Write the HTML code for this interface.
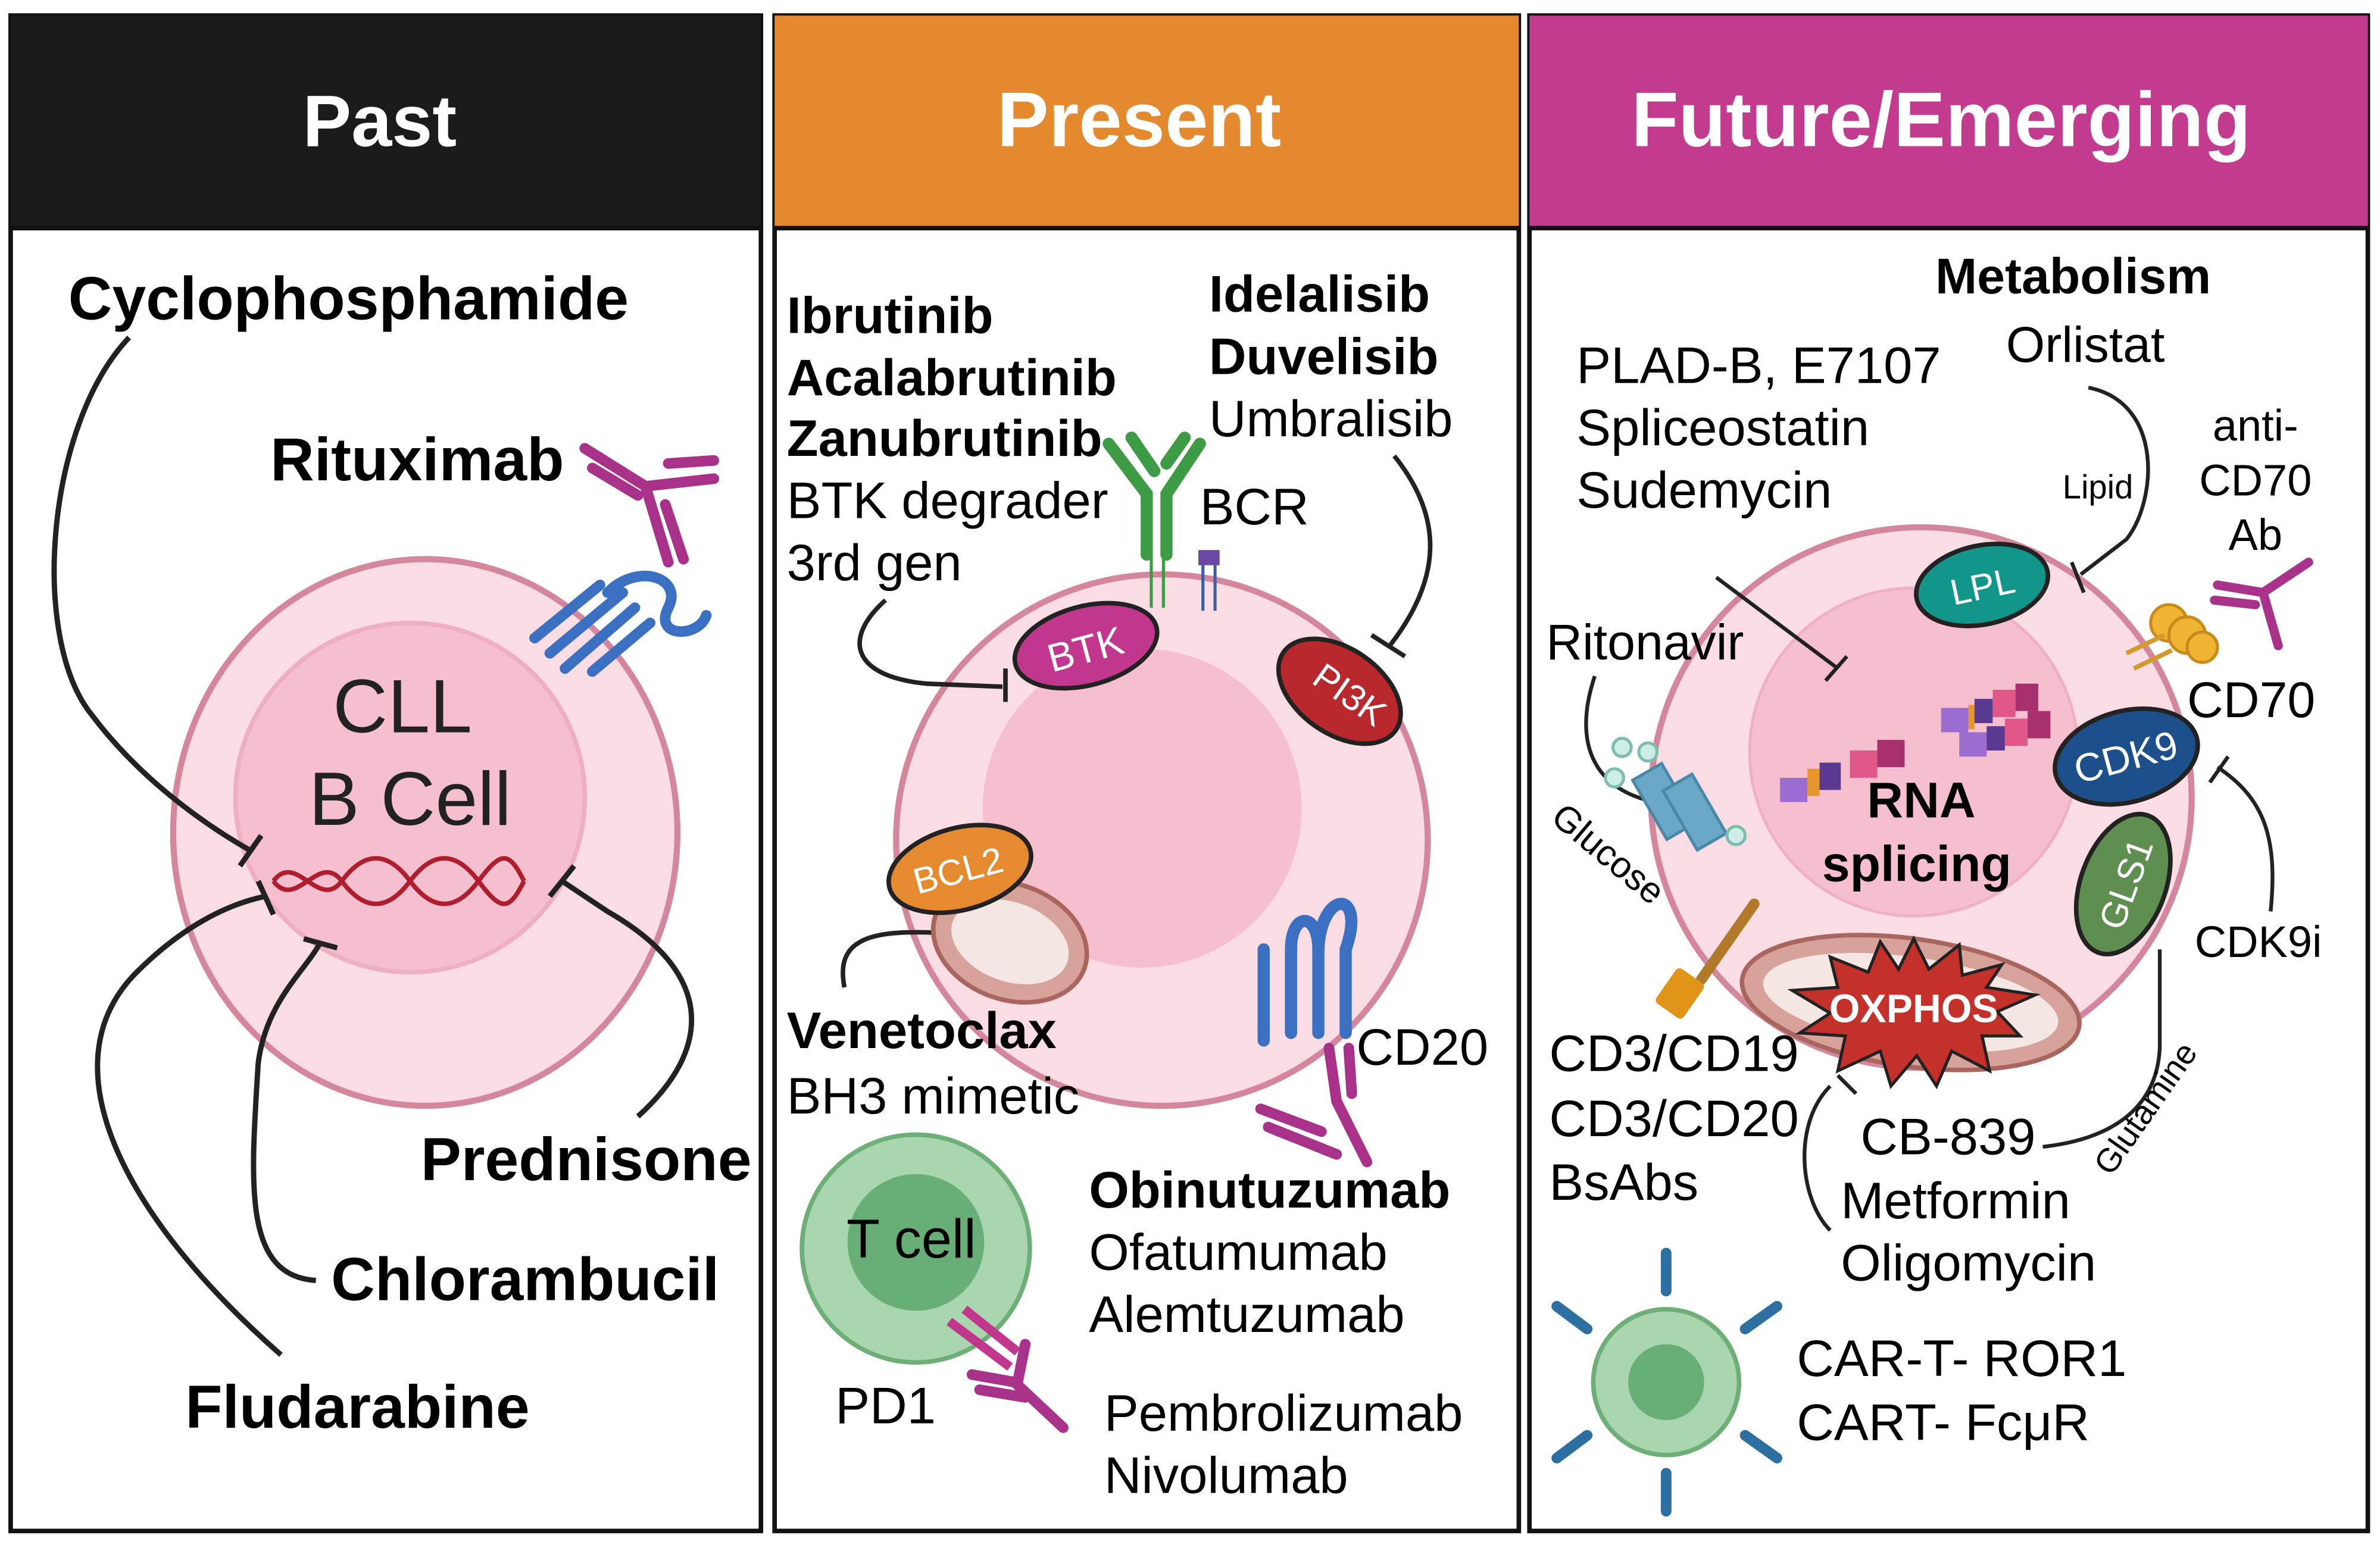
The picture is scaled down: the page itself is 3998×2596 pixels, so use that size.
<!DOCTYPE html>
<html><head><meta charset="utf-8"><style>
html,body{margin:0;padding:0;background:#fff}
svg{display:block}
text{font-family:"Liberation Sans",sans-serif}
.b{font-weight:bold}
</style></head><body>
<svg width="3998" height="2596" viewBox="0 0 1567 1017" xmlns="http://www.w3.org/2000/svg">
<rect width="1567" height="1017" fill="#fff"/>
<!-- panels -->
<rect x="7" y="10" width="494" height="998" fill="#fff" stroke="#111" stroke-width="3"/>
<rect x="7" y="10" width="494" height="140" fill="#1b1b1b"/>
<line x1="7" y1="150" x2="501" y2="150" stroke="#111" stroke-width="3"/>
<text x="250" y="96" text-anchor="middle" class="b" font-size="48" fill="#fff">Past</text>

<rect x="510" y="10" width="490" height="998" fill="#fff" stroke="#111" stroke-width="3"/>
<rect x="510" y="10" width="490" height="140" fill="#E5892E"/>
<line x1="510" y1="150" x2="1000" y2="150" stroke="#111" stroke-width="3"/>
<text x="750" y="96" text-anchor="middle" class="b" font-size="51" fill="#fff">Present</text>

<rect x="1007" y="10" width="552" height="998" fill="#fff" stroke="#111" stroke-width="3"/>
<rect x="1007" y="10" width="552" height="140" fill="#C23B8E"/>
<line x1="1007" y1="150" x2="1559" y2="150" stroke="#111" stroke-width="3"/>
<text x="1278" y="96" text-anchor="middle" class="b" font-size="51" fill="#fff">Future/Emerging</text>

<!-- PAST -->
<ellipse cx="280" cy="548" rx="166" ry="180" fill="#FADCE4" stroke="#D4879C" stroke-width="4"/>
<circle cx="270" cy="525" r="115" fill="#F6BFD0" stroke="#EFAFC2" stroke-width="3"/>
<text x="265" y="482" text-anchor="middle" font-size="50" fill="#222">CLL</text>
<text x="270" y="543" text-anchor="middle" font-size="50" fill="#222">B Cell</text>
<g stroke="#B01E2E" stroke-width="3" fill="none">
<path d="M180,580 C195,560 210,600 225,580 S255,560 270,580 S300,600 315,580 S335,560 345,580"/>
<path d="M180,580 C195,600 210,560 225,580 S255,600 270,580 S300,560 315,580 S335,600 345,580"/>
</g>
<g stroke="#222" stroke-width="3.5" fill="none">
<path d="M85,222 C30,280 20,420 60,470 C90,510 130,540 165,560"/><line x1="158" y1="570" x2="172" y2="550"/>
<path d="M185,892 C80,800 30,700 90,640 C120,610 150,595 175,590"/><line x1="170" y1="580" x2="180" y2="602"/>
<path d="M208,843 C160,840 165,780 170,700 C175,660 200,640 210,622"/><line x1="200" y1="618" x2="222" y2="624"/>
<path d="M420,735 C470,690 470,640 400,600 L370,580"/><line x1="362" y1="590" x2="378" y2="570"/>
</g>
<text x="45" y="210" class="b" font-size="40">Cyclophosphamide</text>
<text x="178" y="316" class="b" font-size="40">Rituximab</text>
<text x="277" y="777" class="b" font-size="40">Prednisone</text>
<text x="218" y="856" class="b" font-size="40">Chlorambucil</text>
<text x="122" y="940" class="b" font-size="40">Fludarabine</text>
<g stroke="#A8328A" stroke-width="7" fill="none" stroke-linecap="round">
<path d="M385,295 L425,320 L470,315"/><path d="M390,308 L420,326"/><path d="M425,320 L440,370"/><path d="M438,332 L450,368"/><path d="M440,305 L470,303"/>
</g>
<g stroke="#3A6FC2" stroke-width="7" fill="none" stroke-linecap="round">
<path d="M352,420 L395,385"/><path d="M362,430 L410,390"/><path d="M372,440 L418,400"/><path d="M390,442 L428,410"/><path d="M400,390 C420,370 450,380 440,400 C430,420 460,420 465,405"/>
</g>

<!-- PRESENT -->
<circle cx="765" cy="553" r="175" fill="#FADCE4" stroke="#D4879C" stroke-width="4"/>
<circle cx="752" cy="532" r="105" fill="#F6BFD0"/>
<text x="518" y="219" class="b" font-size="34">Ibrutinib</text>
<text x="518" y="260" class="b" font-size="34">Acalabrutinib</text>
<text x="518" y="300" class="b" font-size="34">Zanubrutinib</text>
<text x="518" y="341" font-size="34">BTK degrader</text>
<text x="518" y="382" font-size="34">3rd gen</text>
<text x="796" y="205" class="b" font-size="34">Idelalisib</text>
<text x="796" y="246" class="b" font-size="34">Duvelisib</text>
<text x="796" y="287" font-size="34">Umbralisib</text>
<text x="790" y="345" font-size="34">BCR</text>
<g stroke="#3E9B45" stroke-width="8" fill="none" stroke-linecap="round">
<path d="M730,292 L755,325 L755,365"/><path d="M790,292 L768,325 L768,365"/><path d="M745,288 L760,310"/><path d="M780,288 L768,305"/>
</g>
<g stroke="#3E9B45" stroke-width="2"><line x1="758" y1="365" x2="758" y2="400"/><line x1="766" y1="365" x2="766" y2="400"/></g>
<g stroke="#3A5FA8" stroke-width="2"><line x1="792" y1="365" x2="792" y2="402"/><line x1="800" y1="365" x2="800" y2="402"/></g>
<rect x="789" y="362" width="14" height="10" fill="#6A4AA0"/>
<ellipse cx="715" cy="425" rx="48" ry="26" transform="rotate(-15 715 425)" fill="#C2378E" stroke="#222" stroke-width="3"/>
<text x="717" y="436" text-anchor="middle" font-size="26" fill="#fff" transform="rotate(-15 717 436)">BTK</text>
<ellipse cx="882" cy="455" rx="45" ry="28" transform="rotate(35 882 455)" fill="#B8282C" stroke="#222" stroke-width="3"/>
<text x="884" y="464" text-anchor="middle" font-size="24" fill="#fff" transform="rotate(35 884 464)">PI3K</text>
<g stroke="#222" stroke-width="3" fill="none">
<path d="M583,395 C555,420 560,445 610,450 L660,452"/><line x1="662" y1="440" x2="662" y2="462"/>
<path d="M918,300 C950,340 950,380 915,425"/><line x1="903" y1="418" x2="925" y2="432"/>
<path d="M556,650 C550,620 570,612 615,614"/><line x1="617" y1="603" x2="617" y2="625"/>
</g>
<ellipse cx="665" cy="620" rx="52" ry="38" transform="rotate(20 665 620)" fill="#D7A29A" stroke="#A8665E" stroke-width="3"/>
<ellipse cx="665" cy="620" rx="40" ry="26" transform="rotate(20 665 620)" fill="#F4E6E2"/>
<ellipse cx="632" cy="572" rx="48" ry="27" transform="rotate(-15 632 572)" fill="#E58A2E" stroke="#222" stroke-width="3"/>
<text x="633" y="581" text-anchor="middle" font-size="24" fill="#fff" transform="rotate(-15 633 581)">BCL2</text>
<text x="518" y="690" class="b" font-size="34">Venetoclax</text>
<text x="518" y="733" font-size="34">BH3 mimetic</text>
<g stroke="#3A6FC2" stroke-width="8" fill="none" stroke-linecap="round">
<path d="M832,625 L832,685"/><path d="M850,625 L850,680"/><path d="M868,625 L868,680"/><path d="M886,625 L886,680"/>
<path d="M850,625 C850,600 868,600 868,625"/><path d="M868,625 C870,585 900,585 886,625"/>
</g>
<g stroke="#A8328A" stroke-width="7" fill="none" stroke-linecap="round">
<path d="M875,690 L880,725 L900,765"/><path d="M830,730 L870,745"/><path d="M835,742 L880,760"/><path d="M888,690 L890,720"/>
</g>
<text x="893" y="701" font-size="34">CD20</text>
<text x="717" y="795" class="b" font-size="34">Obinutuzumab</text>
<text x="717" y="836" font-size="34">Ofatumumab</text>
<text x="717" y="877" font-size="34">Alemtuzumab</text>
<circle cx="603" cy="822" r="75" fill="#A9D6AE" stroke="#6DAF77" stroke-width="3"/>
<circle cx="603" cy="818" r="45" fill="#67AE77"/>
<text x="600" y="828" text-anchor="middle" font-size="36">T cell</text>
<g stroke="#C2378E" stroke-width="6" fill="none"><path d="M625,870 L665,900"/><path d="M635,862 L670,890"/></g>
<g stroke="#A8328A" stroke-width="7" fill="none" stroke-linecap="round"><path d="M640,905 L668,910 L700,940"/><path d="M675,885 L670,910"/><path d="M645,915 L675,920"/></g>
<text x="550" y="937" font-size="34">PD1</text>
<text x="727" y="942" font-size="34">Pembrolizumab</text>
<text x="727" y="983" font-size="34">Nivolumab</text>

<!-- FUTURE -->
<circle cx="1265" cy="525" r="178" fill="#FADCE4" stroke="#D4879C" stroke-width="4"/>
<circle cx="1260" cy="495" r="108" fill="#F6BFD0" stroke="#F0B0C4" stroke-width="2"/>
<text x="1365" y="193" text-anchor="middle" class="b" font-size="33">Metabolism</text>
<text x="1373" y="238" text-anchor="middle" font-size="33">Orlistat</text>
<text x="1038" y="252" font-size="34">PLAD-B, E7107</text>
<text x="1038" y="293" font-size="34">Spliceostatin</text>
<text x="1038" y="334" font-size="34">Sudemycin</text>
<text x="1485" y="290" text-anchor="middle" font-size="29">anti-</text>
<text x="1485" y="326" text-anchor="middle" font-size="29">CD70</text>
<text x="1485" y="362" text-anchor="middle" font-size="29">Ab</text>
<text x="1358" y="328" font-size="22">Lipid</text>
<g stroke="#222" stroke-width="2.5" fill="none">
<path d="M1375,255 C1425,265 1420,330 1400,355 L1370,378"/><line x1="1364" y1="370" x2="1372" y2="390"/>
<path d="M1130,380 L1210,440"/><line x1="1202" y1="448" x2="1216" y2="432"/>
<path d="M1050,445 C1035,490 1050,520 1090,528"/>
<path d="M1495,600 C1500,550 1490,525 1460,505"/><line x1="1455" y1="515" x2="1467" y2="498"/>
<path d="M1422,625 L1422,690 C1420,730 1390,750 1345,755"/>
<path d="M1205,715 C1180,740 1185,790 1205,810"/><line x1="1210" y1="708" x2="1222" y2="720"/>
</g>
<text x="1018" y="434" font-size="33">Ritonavir</text>
<text x="1020" y="540" font-size="24" transform="rotate(40 1020 540)">Glucose</text>
<g fill="#6BA8C8" stroke="#4A88A8" stroke-width="2"><rect x="1085" y="505" width="22" height="45" transform="rotate(-30 1096 528)"/><rect x="1105" y="512" width="22" height="45" transform="rotate(-30 1116 535)"/></g>
<g fill="#CDEEE6" stroke="#7DBCAE" stroke-width="2"><circle cx="1068" cy="492" r="6"/><circle cx="1085" cy="495" r="6"/><circle cx="1063" cy="512" r="6"/><circle cx="1143" cy="550" r="6"/></g>
<g>
<rect x="1172" y="512" width="18" height="16" fill="#9B6DD0"/><rect x="1190" y="506" width="8" height="18" fill="#E5962E"/><rect x="1198" y="502" width="14" height="18" fill="#5A3A90"/><rect x="1218" y="494" width="18" height="18" fill="#E0578A"/><rect x="1236" y="487" width="18" height="18" fill="#A8306E"/>
<rect x="1278" y="466" width="18" height="16" fill="#9B6DD0"/><rect x="1296" y="464" width="4" height="16" fill="#E5962E"/><rect x="1300" y="460" width="12" height="16" fill="#5A3A90"/><rect x="1312" y="454" width="15" height="18" fill="#E0578A"/><rect x="1327" y="450" width="15" height="18" fill="#A8306E"/>
<rect x="1290" y="482" width="18" height="16" fill="#9B6DD0"/><rect x="1308" y="478" width="12" height="16" fill="#5A3A90"/><rect x="1320" y="473" width="15" height="18" fill="#E0578A"/><rect x="1335" y="468" width="15" height="18" fill="#A8306E"/>
</g>
<text x="1265" y="538" text-anchor="middle" class="b" font-size="33">RNA</text>
<text x="1262" y="580" text-anchor="middle" class="b" font-size="33">splicing</text>
<ellipse cx="1305" cy="385" rx="44" ry="26" transform="rotate(-12 1305 385)" fill="#13968A" stroke="#222" stroke-width="3"/>
<text x="1307" y="394" text-anchor="middle" font-size="24" fill="#fff" transform="rotate(-12 1307 394)">LPL</text>
<ellipse cx="1400" cy="498" rx="48" ry="30" transform="rotate(-15 1400 498)" fill="#1D4F8A" stroke="#222" stroke-width="3"/>
<text x="1402" y="507" text-anchor="middle" font-size="26" fill="#fff" transform="rotate(-15 1402 507)">CDK9</text>
<ellipse cx="1398" cy="582" rx="28" ry="48" transform="rotate(20 1398 582)" fill="#5E8E50" stroke="#222" stroke-width="3"/>
<text x="1400" y="590" text-anchor="middle" font-size="24" fill="#fff" transform="rotate(-70 1400 582)">GLS1</text>
<text x="1440" y="472" font-size="33">CD70</text>
<text x="1445" y="630" font-size="29">CDK9i</text>
<text x="1390" y="775" font-size="22" transform="rotate(-55 1390 775)">Glutamine</text>
<g fill="#F0B433" stroke="#C98A1A" stroke-width="2"><circle cx="1428" cy="410" r="12"/><circle cx="1440" cy="418" r="12"/><circle cx="1450" cy="426" r="10"/></g>
<g stroke="#D29A2A" stroke-width="3"><line x1="1400" y1="430" x2="1425" y2="418"/><line x1="1405" y1="440" x2="1430" y2="428"/></g>
<g stroke="#A8328A" stroke-width="6" fill="none" stroke-linecap="round"><path d="M1460,385 L1490,390 L1520,370"/><path d="M1458,395 L1485,398"/><path d="M1490,390 L1500,425"/></g>
<g stroke="#B07A2A" stroke-width="7" stroke-linecap="round"><line x1="1155" y1="595" x2="1120" y2="645"/></g>
<rect x="1095" y="640" width="22" height="28" rx="3" fill="#E09418" transform="rotate(35 1106 654)"/>
<ellipse cx="1258" cy="660" rx="112" ry="42" transform="rotate(8 1258 660)" fill="#D7A29A" stroke="#A8665E" stroke-width="3"/>
<ellipse cx="1258" cy="660" rx="98" ry="30" transform="rotate(8 1258 660)" fill="#F4E6E2"/>
<polygon points="1260,618 1270,638 1290,622 1292,642 1318,635 1308,650 1340,655 1315,666 1330,682 1305,682 1310,705 1285,692 1275,715 1262,695 1245,715 1238,692 1210,705 1215,682 1185,680 1205,667 1180,652 1210,650 1205,630 1230,640 1238,620 1250,638" fill="#C4302A" stroke="#222" stroke-width="2"/>
<text x="1260" y="673" text-anchor="middle" class="b" font-size="26" fill="#fff">OXPHOS</text>
<text x="1020" y="705" font-size="34">CD3/CD19</text>
<text x="1020" y="748" font-size="34">CD3/CD20</text>
<text x="1020" y="790" font-size="34">BsAbs</text>
<text x="1225" y="760" font-size="34">CB-839</text>
<text x="1212" y="802" font-size="34">Metformin</text>
<text x="1212" y="843" font-size="34">Oligomycin</text>
<circle cx="1097" cy="910" r="48" fill="#A9D6AE" stroke="#6DAF77" stroke-width="3"/>
<circle cx="1097" cy="910" r="25" fill="#67AE77"/>
<g stroke="#2C6FA0" stroke-width="7" stroke-linecap="round">
<line x1="1097" y1="850" x2="1097" y2="825"/><line x1="1097" y1="970" x2="1097" y2="995"/>
<line x1="1045" y1="875" x2="1025" y2="860"/><line x1="1149" y1="875" x2="1170" y2="860"/>
<line x1="1045" y1="945" x2="1025" y2="960"/><line x1="1149" y1="945" x2="1170" y2="960"/>
</g>
<text x="1183" y="906" font-size="34">CAR-T- ROR1</text>
<text x="1183" y="948" font-size="34">CART- FcμR</text>
</svg>
</body></html>
